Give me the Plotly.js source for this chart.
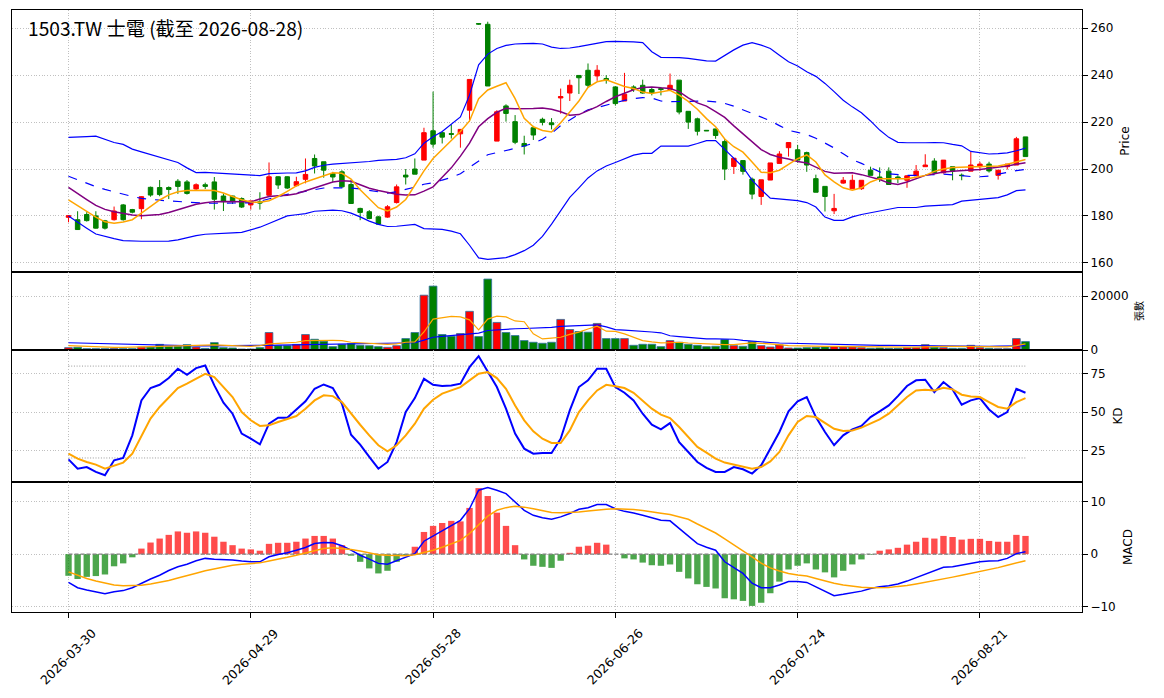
<!DOCTYPE html>
<html>
<head>
<meta charset="utf-8">
<script src="https://cdn.plot.ly/plotly-3.0.1.min.js"></script>
<style>
  html, body { margin: 0; padding: 0; background: #fff; }
  #chart { width: 1164px; height: 698px; }
</style>
</head>
<body>
<div id="chart"></div>
<script>
// trading days shown on the chart
const dates = [
  '2026-03-30','2026-03-31','2026-04-01','2026-04-02','2026-04-07','2026-04-08','2026-04-09','2026-04-10',
  '2026-04-13','2026-04-14','2026-04-15','2026-04-16','2026-04-17',
  '2026-04-20','2026-04-21','2026-04-22','2026-04-23','2026-04-24',
  '2026-04-27','2026-04-28','2026-04-29','2026-04-30',
  '2026-05-04','2026-05-05','2026-05-06','2026-05-07','2026-05-08',
  '2026-05-11','2026-05-12','2026-05-13','2026-05-14','2026-05-15',
  '2026-05-18','2026-05-19','2026-05-20','2026-05-21','2026-05-22',
  '2026-05-25','2026-05-26','2026-05-27','2026-05-28','2026-05-29',
  '2026-06-01','2026-06-02','2026-06-03','2026-06-04','2026-06-05',
  '2026-06-08','2026-06-09','2026-06-10','2026-06-11','2026-06-12',
  '2026-06-15','2026-06-16','2026-06-17','2026-06-18',
  '2026-06-22','2026-06-23','2026-06-24','2026-06-25','2026-06-26',
  '2026-06-29','2026-06-30','2026-07-01','2026-07-02','2026-07-03',
  '2026-07-06','2026-07-07','2026-07-08','2026-07-09','2026-07-10',
  '2026-07-13','2026-07-14','2026-07-15','2026-07-16','2026-07-17',
  '2026-07-20','2026-07-21','2026-07-22','2026-07-23','2026-07-24',
  '2026-07-27','2026-07-28','2026-07-29','2026-07-30','2026-07-31',
  '2026-08-03','2026-08-04','2026-08-05','2026-08-06','2026-08-07',
  '2026-08-10','2026-08-11','2026-08-12','2026-08-13','2026-08-14',
  '2026-08-17','2026-08-18','2026-08-19','2026-08-20','2026-08-21',
  '2026-08-24','2026-08-25','2026-08-26','2026-08-27','2026-08-28'
];
const tickDates = ['2026-03-30','2026-04-29','2026-05-28','2026-06-26','2026-07-24','2026-08-21'];

// OHLC
const opens = [
  179.4,178.4,180.6,180,177.9,178.4,184.7,182.7,183.1,192.2,
  192.1,192.1,194.8,194.5,191.5,193.3,194.5,188.5,188.5,187.4,
  184.7,186,188.8,196.7,196.7,192.9,195.6,204.5,203.1,198.1,
  198.8,193.4,183.2,181.8,179.6,179.5,185.7,197.4,200,203.8,
  216.3,215.5,215.1,215,225.1,262,261.7,211.9,226.9,220.2,
  210.9,217.6,221.2,219.7,230.3,232.4,239.9,242.1,239.7,238.6,
  235,229,235,235.7,233.9,234.3,233.9,237.9,224.6,221.4,
  216.5,217.1,211.7,201.1,203.6,195.7,188.3,195.3,202.4,209.1,
  208.2,207,195.9,192.6,182.2,194,191.6,191.6,199.5,196.6,
  199.1,196.6,195.2,197.1,201,203.4,198.4,201,197.4,199.1,
  201,202.1,197.3,201,201.7,213.7
];
const highs = [
  180.4,182,181.6,182,178.3,184,185.1,183,188.4,192.5,
  195.3,192.6,195.7,195.3,193.9,194.2,196.6,189.6,188.6,187.9,
  186.5,190.1,202.8,196.9,196.9,196.7,204.5,206.2,203.1,198.8,
  199.5,195.3,183.5,182.5,180,184.6,193.4,200,204.5,217.6,
  233,215.9,219,216.9,238.2,262.2,262.8,225.1,227.6,223,
  214.2,218.4,221.9,221.7,234.3,238.1,239.9,245,244.3,240,
  235.3,241,235.7,238.1,234.7,235,240.7,237.9,224.6,221.9,
  216.6,217.1,212.9,204.6,203.6,196.4,195.4,202.6,207.6,211.5,
  210.3,207.4,197.6,192.6,189.4,196.6,197.6,195.2,201,200.7,
  200.7,197.3,197.4,201.7,206.3,204.6,203.8,201,198.1,207.4,
  203.1,203.1,199.5,202.1,213.7,213.7
];
const lows = [
  177.3,174,177.6,174.6,174.2,178,178,181.1,178.6,188.2,
  188.4,187.2,189.4,189.1,190.8,191.5,182.7,182.1,185.1,183.4,
  182.7,182.7,188.5,191.5,191.5,192.6,193.9,198.1,196.3,194.5,
  192,185.1,178.2,178.6,176.4,179.2,185.3,193.4,197.8,203.8,
  209.1,210.9,213,209.1,220.2,261.5,235.4,211.9,220.2,210.6,
  206.2,212.4,218.6,216.9,223.6,229,232,234.7,237.6,236.4,
  227.1,229,232.9,232.1,231.4,231.4,233.9,223.3,217.1,214.3,
  216.2,212.9,195.3,197.9,197.6,187.1,184.7,195.3,202.4,205.3,
  202.7,198.8,190.1,181.9,180.8,193.7,191.6,191.1,197.3,194.5,
  193.4,194,192,197.1,201,198.4,198.1,195.2,195.2,199.1,
  199.2,198.5,195.5,199.8,201.7,205.3
];
const closes = [
  180.1,174.2,178,174.8,174.8,182.1,178.4,181.6,188.2,188.9,
  189.1,191.3,192.6,189.6,193.3,192.6,187.1,186.1,186.2,183.8,
  186.4,185.5,196.7,193.2,191.9,194.6,197.7,201.3,199.5,196.6,
  192.4,185.3,181.5,178.9,176.5,183.9,192.4,196.6,197.8,215.5,
  210.6,213.6,214.8,216.9,238.2,261.8,235.4,224.4,223.7,211.4,
  209.8,214.5,219.9,218.9,230.9,235.7,238.9,235.7,242.1,237.9,
  227.9,231.9,233.9,232.4,232.4,233.9,235.7,224.3,220,216.1,
  216.3,214.3,200,204.6,199,189.3,195.4,202.6,206.4,211.3,
  203.8,201.7,190.1,188.3,183.2,195.2,195.2,195.2,197.3,195.6,
  193.4,195.9,197.1,199.1,201.7,198.4,203.8,199.1,197.2,201.7,
  202.1,199.2,199.5,202.1,212.9,205.3
];

// price overlays
const ma5 = [
  186.8,184.3,182,179.5,177.5,176.9,177.4,178.4,181.2,184,
  186.8,189,190.3,190.8,191,191,190.8,189.8,188.3,186.9,
  185.9,185.8,186.5,188.3,190.5,192.8,194.5,195.7,197,198.4,
  198.2,195.7,191.2,187.5,183.5,182.1,183.8,187,193,199.2,
  204.5,208.5,212.2,216,220.5,230,233.7,235.3,236.8,230,
  221.6,218,216.4,215.8,219.7,224.3,229,234.8,237.2,238,
  236.5,235.2,234.3,232.8,232.2,233,233.6,231.5,228.8,225.5,
  221.5,218,212.8,209.5,207.2,203,198.6,198.4,199.5,202,
  204.4,206,203,197.5,194.5,192,191,192,194.5,195.9,
  195.9,195.9,195.9,196.5,197.3,199,200,200.6,200.7,200.7,
  200.8,201,201.3,202,203.2,204.1
];
const ma10 = [
  192.2,189.5,187,184.5,182.8,181.8,181,180.4,180.1,180.2,
  180.6,181.5,182.6,183.9,185,185.6,186.1,186.2,186.1,185.9,
  186,187.2,188.3,188.6,188.8,189.5,190.8,192.2,193.4,194.5,
  195,194.8,193.3,191.8,190.8,189.9,189.2,188.9,189,190.6,
  192.4,196.5,200.5,205.5,211,218,221.5,224.2,225.9,225.7,
  225.6,225.8,226,225.5,224.4,222.9,223.2,224.8,226.6,228.8,
  230.8,232.3,233.8,234.8,235,234.6,234.3,233,230.3,228.2,
  226.8,224.5,222,218.4,215,211.5,208.3,206.2,205,204.3,
  203.2,202.6,200.8,199,198.2,198.4,198.4,197.6,196.7,195.5,
  194,193.4,194.5,196,197.3,198,198.7,199,199.4,199.6,
  199.8,200.2,200.8,201.3,202,202.7
];
const bbMid = [
  196.9,195.4,194,192.5,191.3,190.2,189.2,188.3,187.5,187,
  186.7,186.4,186.1,185.7,185.4,185.4,185.4,185.4,185.4,185.5,
  185.6,186.3,187.3,188.4,189.2,189.8,190.6,191.3,191.9,192,
  192,191.9,191.5,190.8,190.2,189.7,190.3,191.2,192.3,193.5,
  194.1,195.3,196.4,198,200.8,203.6,206.1,207,207.8,208.8,
  209.8,211,212.7,215.2,218.5,221,223.3,225.2,226.3,227.1,
  228.5,229.3,230,230.4,230.3,229,228.7,228.7,228.8,228.9,
  229,228.6,228,226.8,225.2,223.6,222.3,220.6,218.5,216.5,
  215.6,214.7,213.1,211.1,209,206.5,204,202.4,200.6,198.8,
  198,197.5,197.3,197.3,197.5,197.7,197.8,197.5,197,196.8,
  196.7,197,197.8,198.6,199.3,199.8
];
const bbUpper = [
  213.5,213.5,213.8,214,212.5,211.3,210.5,208.5,207.3,206.2,
  205.3,204,202.8,200.5,198.5,198.6,198.4,197.9,197.9,197.8,
  197.5,197.2,198,198.3,198.3,198.4,199.2,200.7,201.6,202.1,
  202.3,202.5,202.7,203.2,203.7,203.9,204.1,204.8,206.5,211,
  213.8,216,219.2,222.2,231.5,244.4,249,251.4,252.7,253.3,
  253.5,253.6,253.3,252,251.4,251.6,252.2,253,253.8,254.3,
  254.4,254.4,254.2,253.9,250,247.6,247.6,247.5,247.2,246.7,
  246.1,246,248.5,250.8,252.8,253.9,252.8,251.4,248.5,245.7,
  243.9,241.5,239.5,236.5,233,229.3,226.5,224,220.5,216.6,
  213.5,211.4,211.2,211.1,211.2,211.3,211.2,210.5,209.9,207.5,
  206.8,206.4,206.6,206.9,207.8,208.9
];
const bbLower = [
  180,177.3,174.8,172.3,171.2,170.3,169.5,169.2,169.2,169.2,
  169.2,169.3,169.8,170.8,171.6,172.2,172.5,172.7,172.8,173,
  174,175.2,176.8,178.5,180,180.5,181,182,182.3,182.5,
  182.2,181.2,179.6,177.8,176.4,175.5,175.6,176,176.4,174.6,
  174.5,174.3,173.5,172.4,167.5,162.1,161.5,161.7,162.2,163.5,
  165.2,167.5,171.3,176.5,182,187.9,192,196.2,199.2,201.3,
  202.8,204.4,205.9,206.7,206.7,209.8,209.8,209.7,209.8,210.9,
  212.1,212.1,208.3,204.5,200.8,195.3,191.2,187.6,187.2,186.9,
  186.5,185.7,183.8,179.5,178.1,178.1,179.6,180.6,181.4,182.1,
  183,183.6,183.6,183.6,184.2,184.5,184.7,184.8,186.3,186.6,
  186.9,187.2,187.8,189,190.8,191.1
];

// volume (張) and its averages
const volumes = [
  875,1000,500,500,500,600,500,500,1100,1100,
  2100,1400,1400,2000,1100,600,2750,875,750,375,
  375,875,6500,1600,1600,2100,5750,4000,3250,1250,
  2100,2400,1750,1600,1250,1000,1600,4250,6500,20375,
  23750,5750,5125,6125,14375,5000,26375,10250,6500,5375,
  3500,2875,2500,2875,11375,7625,6875,6625,9875,4250,
  4250,4250,1750,2125,2125,1250,3500,2875,2125,1750,
  1250,1375,3875,1625,1375,3125,1625,1125,1875,750,
  750,875,1000,1125,1250,1125,1125,875,625,750,
  625,625,875,875,2000,1000,875,625,625,1750,
  875,625,500,500,4250,3125
];
const volMa5 = [
  1625,1450,1300,1125,1050,1000,1000,1100,1250,1450,
  1625,1700,1800,1875,1875,1850,1875,1750,1500,1450,
  1375,1600,2250,2450,2625,2875,3500,3600,3625,3550,
  3500,2875,2700,2500,2250,2100,2250,2875,3000,6700,
  11500,12100,12500,12300,11200,7500,11500,12600,12300,10800,
  10500,6000,4125,4400,4750,5800,6625,7800,8875,7000,
  6900,6000,4800,3500,3000,2625,2700,2875,2600,2400,
  2250,2000,2000,2000,2300,2625,2500,2375,2000,1625,
  1500,1400,1375,1375,1375,1300,1250,1200,1125,1050,
  1000,1000,1050,1100,1250,1300,1375,1375,1300,1375,
  1375,1300,1125,1150,1600,2250
];
const volMa20 = [
  2700,2600,2500,2400,2300,2200,2100,2000,1900,1850,
  1750,1700,1650,1600,1550,1500,1500,1500,1500,1500,
  1500,1550,1750,1800,1850,1900,2000,2050,2100,2100,
  2125,2150,2200,2200,2250,2300,2350,2500,2700,3700,
  4750,5100,5375,5600,6000,6250,7250,7500,7800,7900,
  8000,8100,8125,8400,8800,8900,9000,9200,9375,8600,
  7600,7400,7250,7000,6700,6400,5300,5000,4700,4300,
  4125,4125,4125,4000,3600,3250,3000,2800,2600,2500,
  2400,2350,2300,2200,2125,2050,2000,1950,1850,1750,
  1700,1650,1600,1550,1500,1500,1450,1400,1375,1375,
  1400,1400,1450,1500,1600,1625
];

// KD
const kValues = [
  19.1,13,14.1,10.9,8.7,18.5,20,34.8,57.6,65.7,
  67.8,72.2,78.3,74.3,78.7,80.4,67.4,56.1,48.9,35.9,
  32.6,28.9,42.4,46.3,46.3,51.7,57,65.2,68,65.7,
  55.4,35.2,28.7,20.7,13,17.4,30.4,50,59.1,71.7,
  67.8,67,67.4,68.5,79.3,86.5,76.1,66.3,52.2,35.9,
  26.1,22.8,23.3,23.3,32.6,51.1,66.3,70.7,78.3,78.3,
  66.3,62.6,57.6,48.9,41.7,38.7,42.8,30.4,23.9,17.4,
  13.5,10.9,10.9,14.1,12.6,9.8,15.2,25.7,37,50.4,
  57,59.8,46.7,37,28.3,34.8,38.7,40.9,46.7,50.4,
  54.3,60.4,67,70.7,71.1,63,69.6,64.8,54.8,57.6,
  59.1,51.7,46.7,50,65.2,62.6
];
const dValues = [
  22.8,19.6,17.4,15.7,13,15.2,17,22.8,34.8,45.7,
  53.3,59.8,65.7,68.5,71.7,75,72.8,66.3,59.8,50,
  44.6,40.9,41.3,43.5,45.2,47.4,52.2,57.6,60.9,60.4,
  56.5,48.9,41.7,34.8,28.3,24.3,28.3,34.8,42.4,52.2,
  58,62,64.1,66.3,70.7,75,76.1,72.2,65.2,54.3,
  44.6,37.4,32.6,29.8,29.8,38,50,57.6,64.1,67.8,
  66.9,65.7,62.6,57.6,52.2,48.3,46.1,40.2,33.7,27.2,
  23.5,19.6,17,15.7,14.8,13,14.1,17.8,23.9,34.8,
  43.5,47.4,46.7,43,39.1,37.6,38,39.8,42.4,45.2,
  48.9,54.3,59.8,64.1,64.6,64.1,65.9,64.8,61.3,60.2,
  59.8,56.5,53.3,52.2,56.5,59.1
];
const kdLevels = [20, 80];

// MACD
const difValues = [
  -5.35,-6.35,-6.8,-7.2,-7.5,-7.1,-6.9,-6.35,-5.5,-4.7,
  -4,-3.1,-2.4,-1.9,-1.25,-0.8,-0.95,-1,-1.1,-1.3,
  -1.45,-1.45,-0.5,-0.05,0.25,0.75,1.25,2,2.2,2.15,
  1.6,0.75,-0.2,-0.95,-1.75,-1.9,-1.25,-0.5,0.1,2.45,
  3.45,4.5,5.5,6.4,8.6,12.1,12.6,12.1,11.45,9.9,
  8.3,7.35,6.9,6.6,7.05,7.7,8.5,8.8,9.4,9.4,
  8.6,8.1,7.8,7.35,6.9,6.4,6.3,4.85,3.3,2,
  1.3,0.75,-1.45,-2.6,-3.65,-5.5,-6.35,-6.35,-5.85,-5.2,
  -5.2,-5.35,-6.15,-6.9,-7.85,-7.6,-7.3,-7,-6.5,-6.15,
  -6,-5.65,-5.1,-4.45,-3.65,-3.15,-2.5,-2.4,-2.1,-1.75,
  -1.45,-1.3,-1.25,-0.8,0.1,0.45
];
const deaValues = [
  -3.35,-4,-4.6,-5.1,-5.5,-5.85,-6,-6,-5.9,-5.65,
  -5.35,-5,-4.5,-4.1,-3.6,-3.15,-2.8,-2.4,-2.1,-1.9,
  -1.75,-1.65,-1.3,-1,-0.6,-0.2,0.25,0.7,1.05,1.2,
  1.05,0.9,0.6,0.3,-0.1,-0.2,-0.3,-0.3,-0.1,0.3,
  0.75,1.3,1.9,2.6,3.9,5.6,7.2,8.3,8.8,9.05,
  8.9,8.6,8.2,7.9,7.85,7.9,8,8.15,8.35,8.5,
  8.6,8.55,8.45,8.25,8.05,7.75,7.5,7.1,6.6,5.7,
  4.8,4.0,2.9,1.8,0.7,-0.5,-1.7,-2.6,-3.2,-3.65,
  -3.95,-4.15,-4.6,-5.1,-5.5,-5.85,-6.1,-6.25,-6.35,-6.35,
  -6.3,-6.1,-5.95,-5.65,-5.35,-5,-4.7,-4.35,-4,-3.65,
  -3.3,-2.95,-2.55,-2.1,-1.65,-1.25
];
const oscValues = [
  -4.1,-4.7,-4.3,-4.15,-3.85,-2.3,-1.75,-0.6,1.05,2.2,
  2.95,3.65,4.3,4.05,4.3,4.05,3.3,2.35,1.7,1.05,
  0.9,0.65,1.95,2.15,2.15,2.35,2.95,3.45,3.45,2.95,
  1.7,-0.3,-1.45,-2.7,-3.65,-3.15,-1.45,-0.2,1.4,4.2,
  5.35,5.9,6.3,6.2,8.75,12.5,11,7.85,5.35,1.7,
  -1,-2.2,-2.4,-2.6,-1.25,0.25,1.4,1.6,2.15,1.8,
  0,-0.8,-1,-1.6,-2.1,-2.2,-1.95,-3.35,-4.6,-5.7,
  -6.2,-6.5,-8.35,-8.55,-8.85,-9.8,-9.2,-7.4,-5.2,-2.9,
  -2.2,-1.75,-2.9,-3.45,-4.4,-3.15,-1.95,-1,-0.1,0.65,
  0.9,1.2,1.8,2.35,3.1,2.95,3.45,3.25,2.75,2.9,
  2.9,2.5,2.35,2.35,3.65,3.45
];

const UP = 'red';
const DOWN = 'green';
const volColors = closes.map((c, i) => c >= opens[i] ? UP : DOWN);
const oscColors = oscValues.map(v => v >= 0 ? 'rgba(255,0,0,0.7)' : 'rgba(0,128,0,0.7)');
const firstLast = [dates[0], dates[dates.length - 1]];
const GRID_DASH = '1px,1.7px';

function line(y, color, width, xa, ya, dash) {
    return { type: 'scatter', mode: 'lines', x: dates, y: y, xaxis: xa, yaxis: ya,
             line: { color: color, width: width, dash: dash || 'solid' }, hoverinfo: 'skip' };
}

function hline(level, xa, ya, color, dash, width) {
    return { type: 'scatter', mode: 'lines', x: firstLast, y: [level, level], xaxis: xa, yaxis: ya,
             line: { color: color, width: width, dash: dash }, hoverinfo: 'skip' };
}

const traces = [
    {
        type: 'candlestick', x: dates, open: opens, high: highs, low: lows, close: closes,
        xaxis: 'x', yaxis: 'y', whiskerwidth: 0,
        increasing: { line: { color: UP, width: 1 }, fillcolor: UP },
        decreasing: { line: { color: DOWN, width: 1 }, fillcolor: DOWN }
    },
    line(bbUpper, 'blue', 1.2, 'x', 'y'),
    line(bbLower, 'blue', 1.2, 'x', 'y'),
    line(bbMid, 'blue', 1.2, 'x', 'y', 'dash'),
    line(ma10, 'purple', 1.5, 'x', 'y'),
    line(ma5, 'orange', 1.5, 'x', 'y'),

    { type: 'bar', x: dates, y: volumes, xaxis: 'x2', yaxis: 'y2', width: 0.85,
      marker: { color: volColors, line: { color: '#2b6f9e', width: 0.8 } }, hoverinfo: 'skip' },
    line(volMa20, 'blue', 1.2, 'x2', 'y2'),
    line(volMa5, 'orange', 1.2, 'x2', 'y2'),

    hline(kdLevels[0], 'x3', 'y3', '#999', GRID_DASH, 1),
    hline(kdLevels[1], 'x3', 'y3', '#999', GRID_DASH, 1),
    line(kValues, 'blue', 2, 'x3', 'y3'),
    line(dValues, 'orange', 2, 'x3', 'y3'),

    { type: 'bar', x: dates, y: oscValues, xaxis: 'x4', yaxis: 'y4', width: 0.7,
      marker: { color: oscColors }, hoverinfo: 'skip' },
    hline(0, 'x4', 'y4', 'gray', '4px,2px', 1.2),
    line(difValues, 'blue', 1.5, 'x4', 'y4'),
    line(deaValues, 'orange', 1.5, 'x4', 'y4')
];

const tickFont = { family: 'DejaVu Sans, sans-serif', size: 12, color: '#000' };
const gridStyle = { showgrid: true, gridcolor: '#b0b0b0', griddash: GRID_DASH, gridwidth: 0.8 };

function xAxis(anchor, showTicks) {
    return Object.assign({
        type: 'category', categoryorder: 'array', categoryarray: dates,
        range: [-6.2, 111.2], anchor: anchor, domain: [0, 1],
        tickvals: tickDates, showticklabels: false, ticks: showTicks ? 'outside' : '',
        ticklen: 5, tickcolor: '#000',
        showline: true, mirror: true, linecolor: '#000', linewidth: 1,
        zeroline: false, rangeslider: { visible: false }, fixedrange: true
    }, gridStyle);
}

function yAxis(domain, range, tickvals, title, titleSize, anchor) {
    return Object.assign({
        domain: domain, range: range, tickvals: tickvals, side: 'right', anchor: anchor,
        ticks: 'outside', ticklen: 5, tickcolor: '#000', tickfont: tickFont, tickformat: 'd',
        showline: true, mirror: true, linecolor: '#000', linewidth: 1, zeroline: false,
        title: { text: title, font: { family: 'DejaVu Sans, Noto Sans CJK TC, sans-serif', size: titleSize, color: '#000' }, standoff: 8 },
        fixedrange: true
    }, gridStyle);
}

// rotated date labels centred under their ticks
const dateLabels = tickDates.map(d => ({
    xref: 'x4', yref: 'paper', x: d, y: -0.0745, xanchor: 'center', yanchor: 'middle',
    text: d, textangle: -45, showarrow: false,
    font: { family: 'DejaVu Sans, sans-serif', size: 12.5, color: '#000' }
}));

const layout = {
    width: 1164, height: 698,
    margin: { l: 12, r: 82, t: 10, b: 86 },
    paper_bgcolor: '#fff', plot_bgcolor: '#fff',
    showlegend: false, hovermode: false,
    xaxis: xAxis('y', false),
    xaxis2: Object.assign(xAxis('y2', false), { matches: 'x' }),
    xaxis3: Object.assign(xAxis('y3', false), { matches: 'x' }),
    xaxis4: Object.assign(xAxis('y4', true), { matches: 'x' }),
    yaxis: yAxis([0.5648, 1], [156.1, 267.8], [160, 180, 200, 220, 240, 260], 'Price', 12, 'x'),
    yaxis2: yAxis([0.4352, 0.5648], [0, 29000], [0, 20000], '張數', 10, 'x2'),
    yaxis3: yAxis([0.2159, 0.4352], [4.3, 90.5], [25, 50, 75], 'KD', 12, 'x3'),
    yaxis4: yAxis([0, 0.2159], [-10.95, 13.65], [-10, 0, 10], 'MACD', 12, 'x4'),
    annotations: [{
        xref: 'paper', yref: 'paper', x: 0.0128, y: 0.970, xanchor: 'left', yanchor: 'middle',
        text: '1503.TW 士電 (截至 2026-08-28)', showarrow: false,
        font: { family: 'Noto Sans CJK TC, sans-serif', size: 19.2, color: '#000' }
    }].concat(dateLabels)
};

Plotly.newPlot('chart', traces, layout, { staticPlot: true, displayModeBar: false });
</script>
</body>
</html>
